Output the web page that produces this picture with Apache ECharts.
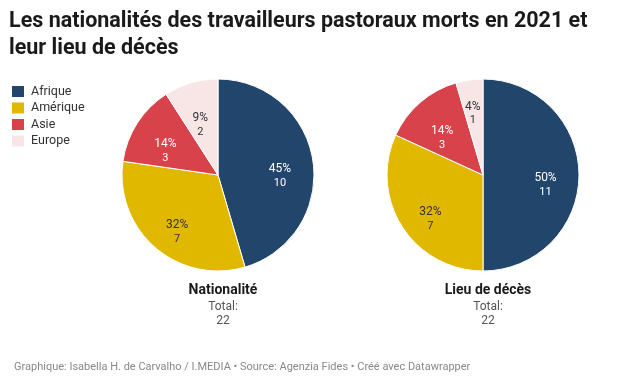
<!DOCTYPE html>
<html><head><meta charset="utf-8">
<script src="https://cdn.jsdelivr.net/npm/echarts@6/dist/echarts.min.js"></script>
<style>html,body{margin:0;padding:0;background:#fff}#c{width:620px;height:382px}</style>
</head><body><div id="c"></div>
<script>
const categories = ['Afrique', 'Amérique', 'Asie', 'Europe'];
const nationalite = [10, 7, 3, 2];
const lieuDeces = [11, 7, 3, 1];
const pieTitles = ['Nationalité', 'Lieu de décès'];
const colors = ['#22456b', '#e0b800', '#d8434b', '#f8e6e6'];
const labelColors = ['#ffffff', '#333333', '#ffffff', '#333333'];

const R = 96;
const centers = [[218, 175], [483, 175]];
const datasets = [nationalite, lieuDeces];

function total(a){ return a.reduce((s,v)=>s+v,0); }
// largest-remainder rounding so percentages sum to 100
function percents(a){
  const tot = total(a);
  const raw = a.map(v => v / tot * 100);
  const fl = raw.map(Math.floor);
  let rest = 100 - fl.reduce((s,v)=>s+v,0);
  const order = raw.map((v,i)=>[v - fl[i], i]).sort((x,y)=>y[0]-x[0]);
  for (let j = 0; j < rest; j++) fl[order[j][1]]++;
  return fl;
}

const baseLabelR = R * 0.62;
const series = [];
datasets.forEach((vals, k) => {
  const pct = percents(vals);
  const tot = total(vals);
  let acc = 0;
  const offsets = vals.map(v => {
    const a0 = acc / tot * 2 * Math.PI; acc += v;
    const a1 = acc / tot * 2 * Math.PI;
    const mid = (a0 + a1) / 2, half = (a1 - a0) / 2;
    // push label outward in narrow slices so the text fits
    const need = Math.min(R * 0.72, 22 / (2 * Math.sin(half)));
    const extra = Math.max(0, need - baseLabelR);
    return [extra * Math.sin(mid), -extra * Math.cos(mid) + 10];
  });
  series.push({
    type: 'pie', center: centers[k], radius: [0, R], startAngle: 90, clockwise: true,
    silent: true, animation: false,
    label: {show: false}, labelLine: {show: false},
    itemStyle: {borderColor: '#fff', borderWidth: 1},
    data: vals.map((v, i) => ({name: categories[i], value: v, itemStyle: {color: colors[i]}}))
  });
  series.push({
    type: 'pie', center: centers[k], radius: [baseLabelR * 2 - R, R], startAngle: 90, clockwise: true,
    silent: true, animation: false, legendHoverLink: false,
    itemStyle: {color: 'rgba(0,0,0,0)', borderWidth: 0},
    labelLine: {show: false},
    data: vals.map((v, i) => ({
      name: categories[i], value: v,
      label: {
        show: true, position: 'inside', offset: offsets[i],
        formatter: pct[i] + '%\n{n|' + v + '}',
        color: labelColors[i], fontSize: 12, lineHeight: 14,
        fontFamily: 'Roboto',
        rich: {n: {fontSize: 11, color: labelColors[i], fontFamily: 'Roboto', lineHeight: 14}}
      }
    }))
  });
});

const chart = echarts.init(document.getElementById('c'), null, {renderer: 'canvas'});
chart.setOption({
  backgroundColor: '#fff',
  animation: false,
  color: colors,
  title: [
    {text: 'Les nationalités des travailleurs pastoraux morts en 2021 et\nleur lieu de décès',
     left: 9, top: 8, padding: 0,
     textStyle: {fontFamily: 'Roboto', fontWeight: 'bold', fontSize: 21.5, lineHeight: 27, color: '#1a1a1a'}},
    {text: pieTitles[0], subtext: 'Total:\n' + total(nationalite), left: centers[0][0], top: 278, textAlign: 'center', itemGap: 3,
     textStyle: {fontFamily: 'Roboto', fontWeight: 'bold', fontSize: 14, color: '#1a1a1a'},
     subtextStyle: {fontFamily: 'Roboto', fontSize: 12, lineHeight: 14, color: '#555'}},
    {text: pieTitles[1], subtext: 'Total:\n' + total(lieuDeces), left: centers[1][0], top: 278, textAlign: 'center', itemGap: 3,
     textStyle: {fontFamily: 'Roboto', fontWeight: 'bold', fontSize: 14, color: '#1a1a1a'},
     subtextStyle: {fontFamily: 'Roboto', fontSize: 12, lineHeight: 14, color: '#555'}},
    {text: 'Graphique: Isabella H. de Carvalho / I.MEDIA • Source: Agenzia Fides • Créé avec Datawrapper',
     left: 9, top: 357,
     textStyle: {fontFamily: 'Roboto', fontWeight: 'normal', fontSize: 11, color: '#888'}}
  ],
  legend: {
    orient: 'vertical', left: 10, top: 84, padding: 0, itemWidth: 14, itemHeight: 13, itemGap: 1.5,
    icon: 'rect', selectedMode: false,
    data: categories,
    textStyle: {fontFamily: 'Roboto', fontSize: 12.5, lineHeight: 13, color: '#333', padding: [0, 0, 0, 1]}
  },
  series: series
});
</script></body></html>
